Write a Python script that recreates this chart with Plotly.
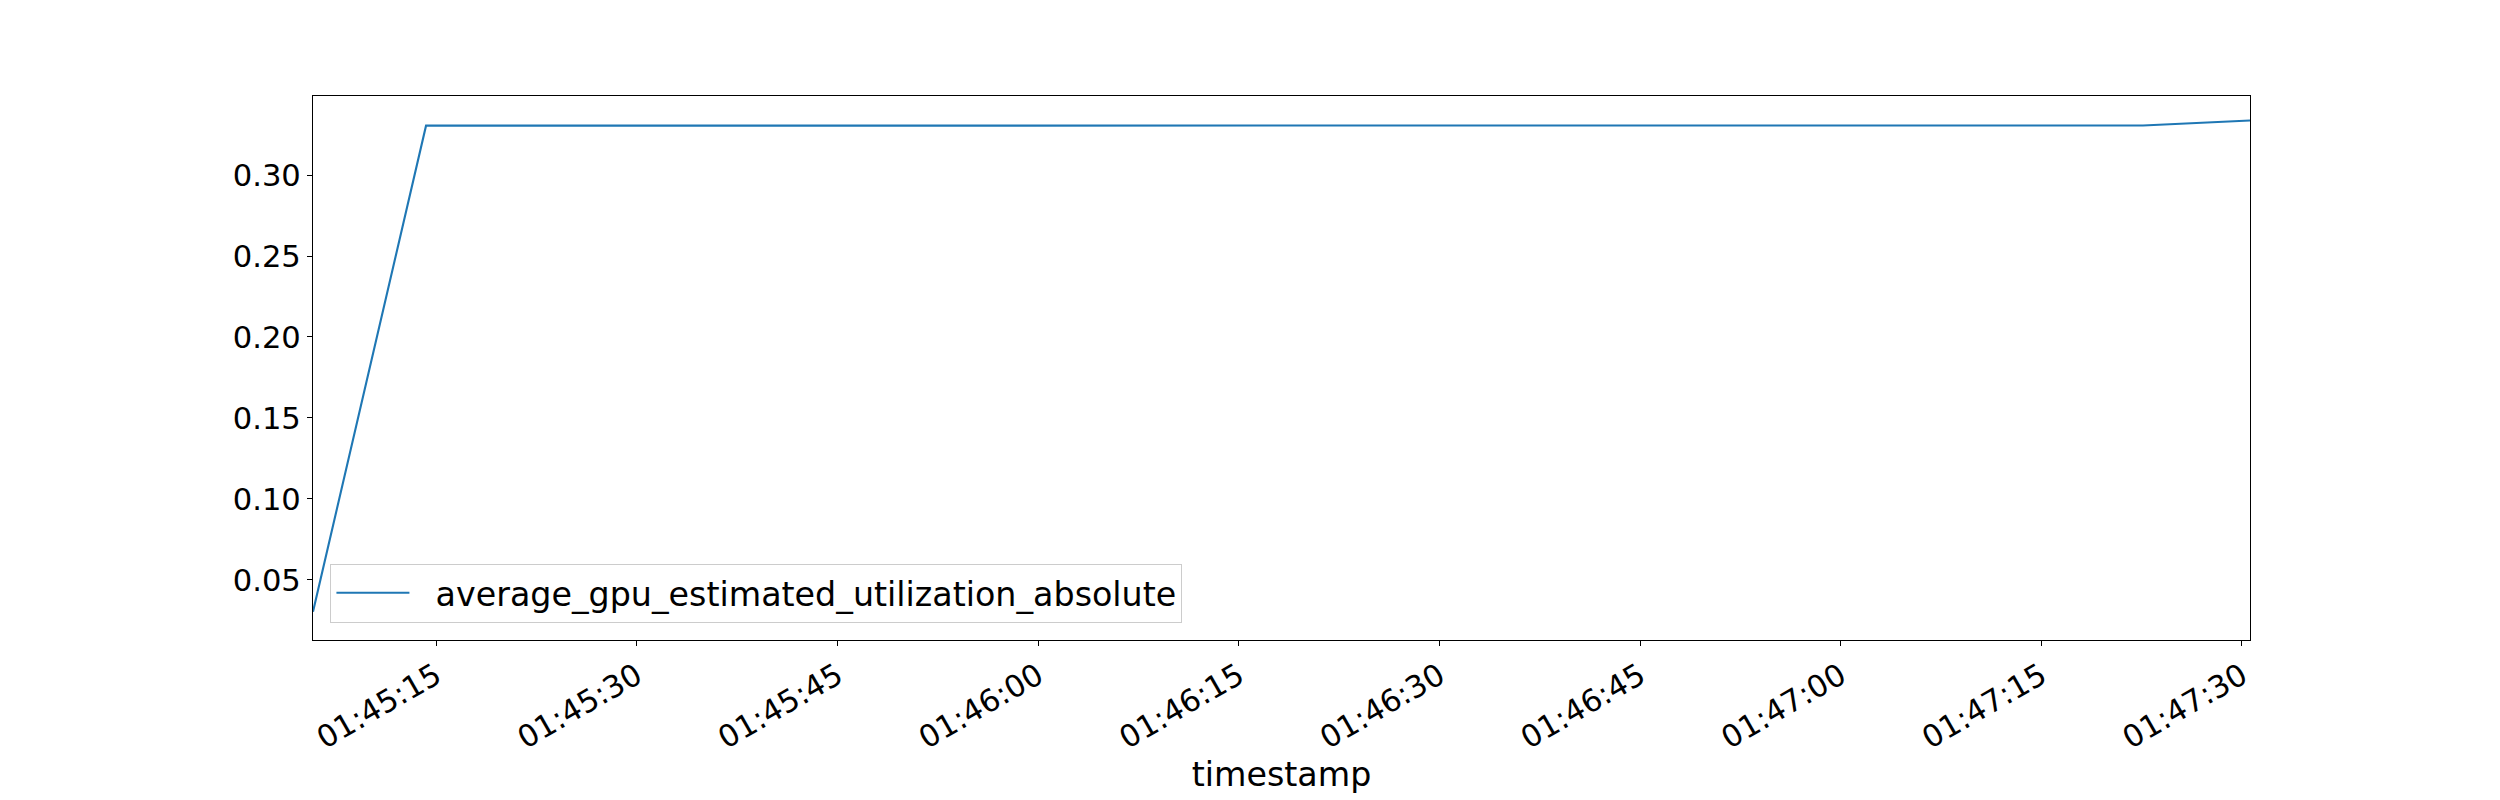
import plotly.graph_objects as go

# ---- data ----
date_prefix = "2024-01-01 "
timestamps = ["01:45:05.8", "01:45:14.25", "01:47:22.6", "01:47:30.6"]
utilization = [0.0304, 0.3305, 0.3306, 0.3337]
series_name = "average_gpu_estimated_utilization_absolute"
x_tick_labels = ["01:45:15", "01:45:30", "01:45:45", "01:46:00", "01:46:15",
                 "01:46:30", "01:46:45", "01:47:00", "01:47:15", "01:47:30"]
y_tick_values = [0.05, 0.10, 0.15, 0.20, 0.25, 0.30]
y_range = [0.0129, 0.3488]

x_vals = [date_prefix + t for t in timestamps]
x_tickvals = [date_prefix + t for t in x_tick_labels]

FONT = "DejaVu Sans"
TICK_PX = 30.6
LABEL_PX = 33.3

fig = go.Figure()
fig.add_trace(go.Scatter(
    x=x_vals, y=utilization, mode="lines",
    name="\u00a0\u00a0" + series_name,
    line=dict(color="#1f77b4", width=2.1),
))

fig.update_layout(
    width=2500, height=800,
    margin=dict(l=312.5, r=250, t=96, b=160, autoexpand=False),
    paper_bgcolor="white", plot_bgcolor="white",
    font=dict(family=FONT, color="black", size=TICK_PX),
    showlegend=True,
    legend=dict(
        x=0.009, y=0.032, xanchor="left", yanchor="bottom",
        bgcolor="rgba(255,255,255,0.8)", bordercolor="#cccccc", borderwidth=1,
        font=dict(family=FONT, size=LABEL_PX, color="black"),
        itemwidth=73,
    ),
)

fig.update_xaxes(
    type="date",
    range=[x_vals[0], x_vals[-1]],
    tickvals=x_tickvals, ticktext=x_tick_labels,
    tickangle=-30,
    ticks="outside", ticklen=5, tickwidth=1.1, tickcolor="black",
    tickfont=dict(family=FONT, size=TICK_PX, color="black"),
    showline=True, linecolor="black", linewidth=1.1, mirror=True,
    showgrid=False, zeroline=False,
    title=dict(text="timestamp", font=dict(family=FONT, size=LABEL_PX, color="black"), standoff=0),
    automargin=False,
)
fig.update_yaxes(
    range=y_range,
    tickvals=y_tick_values, tickformat=".2f",
    ticks="outside", ticklen=5, tickwidth=1.1, tickcolor="black",
    tickfont=dict(family=FONT, size=TICK_PX, color="black"),
    showline=True, linecolor="black", linewidth=1.1, mirror=True,
    showgrid=False, zeroline=False,
    automargin=False,
)

fig.write_html("out.html", config={"displayModeBar": False},
               post_script="document.body.style.margin='0';")
